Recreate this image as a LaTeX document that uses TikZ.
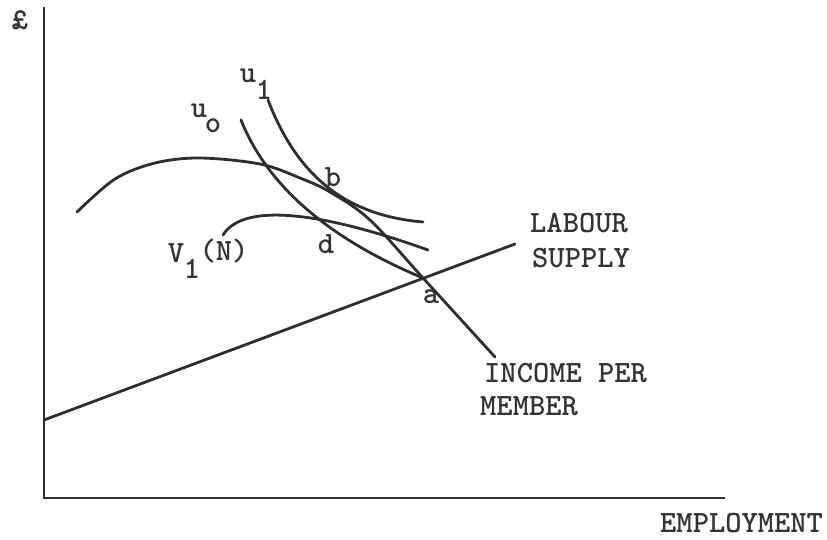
\documentclass[tikz,border=0pt]{standalone}
\usepackage{fontspec}
\begin{document}
\begin{tikzpicture}[x=1pt,y=-1pt,
  ink/.style={line width=2.8pt,color=black!82,line cap=round},
  curve/.style={ink,smooth,tension=0.55},
  lbl/.style={inner sep=0pt,text=black!80,font=\ttfamily\bfseries\fontsize{31}{34}\selectfont},
]
\useasboundingbox (0,0) rectangle (827,540);
% axes
\coordinate (top) at (44,7);
\coordinate (orig) at (44,498);
\coordinate (xend) at (725,498);
\draw[ink,line cap=butt] (top) -- (orig) -- (xend);
% labour supply
\coordinate (ls0) at (44,420);
\coordinate (ls1) at (515,244);
\draw[ink] (ls0) -- (ls1);
% income per member
\draw[curve] plot coordinates {(77,212) (115,179) (155,163) (200,158) (260,164) (300,178) (330,192) (370,220) (423,278) (495,357)};
% u1
\draw[ink] (268,100) .. controls (295,170) and (340,215) .. (423,222);
% u0
\draw[ink] (241,120) .. controls (265,180) and (320,235) .. (423,278);
% V1(N)
\draw[ink] (223,235) .. controls (245,200) and (330,215) .. (428,250);
% labels
\node[lbl,anchor=base] (pound) at (20,30) {£};
\node[lbl,anchor=base] (u0a) at (199,118) {u};
\node[lbl,anchor=base] (u0b) at (213,133) {o};
\node[lbl,anchor=base] (u1a) at (248,83) {u};
\node[lbl,anchor=base] (u1b) at (264,100) {1};
\node[lbl,anchor=base] (lb) at (333,187) {b};
\node[lbl,anchor=base] (ld) at (326,253) {d};
\node[lbl,anchor=base] (la) at (431,303) {a};
\node[lbl,anchor=base] (v1a) at (176,262) {V};
\node[lbl,anchor=base] (v1b) at (192,278) {1};
\node[lbl,anchor=base] (v1c) at (224,260) {(N)};
\node[lbl,anchor=base west] (lab1) at (530,233) {LABOUR};
\node[lbl,anchor=base west] (lab2) at (532,267) {SUPPLY};
\node[lbl,anchor=base west] (inc1) at (484,382) {INCOME PER};
\node[lbl,anchor=base west] (inc2) at (480,415) {MEMBER};
\node[lbl,anchor=base west] (emp) at (660,532) {EMPLOYMENT};
\end{tikzpicture}
\end{document}
